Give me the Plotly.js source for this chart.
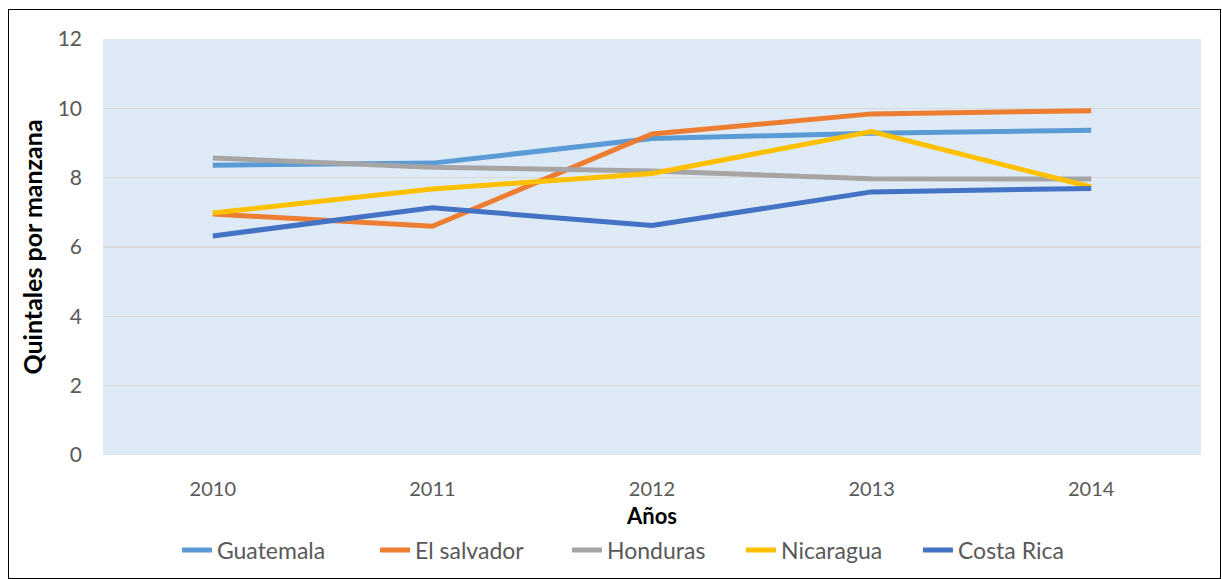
<!DOCTYPE html>
<html>
<head>
<meta charset="utf-8">
<script src="https://cdn.plot.ly/plotly-3.0.1.min.js"></script>
<style>
html,body{margin:0;padding:0;background:#fff;}
#wrap{position:relative;width:1222px;height:579px;}
#chart{width:1222px;height:579px;}
#frame{position:absolute;left:8px;top:9px;width:1211px;height:568px;border:1.5px solid #000;pointer-events:none;}
</style>
</head>
<body>
<div id="wrap"><div id="chart"></div><div id="frame"></div></div>
<script>
var years = ["2010", "2011", "2012", "2013", "2014"];
var guatemala = [8.36, 8.42, 9.13, 9.28, 9.37];
var elSalvador = [6.95, 6.6, 9.26, 9.84, 9.93];
var honduras = [8.57, 8.3, 8.19, 7.97, 7.96];
var nicaragua = [6.98, 7.67, 8.12, 9.33, 7.73];
var costaRica = [6.32, 7.13, 6.62, 7.59, 7.69];

var names = ["Guatemala", "El salvador", "Honduras", "Nicaragua", "Costa Rica"];
var colors = ["#5B9BD5", "#ED7D31", "#A5A5A5", "#FFC000", "#4472C4"];
var series = [guatemala, elSalvador, honduras, nicaragua, costaRica];
var legendIds = ["legend", "legend2", "legend3", "legend4", "legend5"];
var legendX = [0.1448, 0.3069, 0.4640, 0.6064, 0.7512];

var traces = series.map(function(s, i){
  return {x: years, y: s, type: "scatter", mode: "lines", name: names[i],
          legend: legendIds[i],
          line: {color: colors[i], width: 5}};
});

var layout = {
  width: 1222, height: 579,
  margin: {l: 103, r: 21, t: 39, b: 124},
  paper_bgcolor: "#ffffff",
  plot_bgcolor: "#DEEAF6",
  font: {family: "Lato, 'Open Sans', sans-serif", color: "#595959", size: 20},
  xaxis: {
    type: "category", range: [-0.5, 4.5], showgrid: false, zeroline: false, automargin: false,
    showline: false, ticks: "", ticklabelstandoff: 20, tickfont: {size: 20, color: "#595959"},
    title: {text: "<b>Años</b>", font: {size: 22, color: "#000"}, standoff: 18}
  },
  yaxis: {
    range: [0, 12], dtick: 2, showgrid: true, gridcolor: "#D9D9D9", gridwidth: 1.5, automargin: false,
    zeroline: false, showline: false, ticks: "", ticklabelstandoff: 20, tickfont: {size: 21, color: "#595959"},
    title: {text: "<b>Quintales por manzana</b>", font: {size: 25, color: "#000"}, standoff: 7}
  },
  showlegend: true
};
legendIds.forEach(function(id, i){
  layout[id] = {x: legendX[i], xref: "container", xanchor: "left",
                y: 0.05, yref: "container", yanchor: "middle",
                orientation: "h", font: {size: 23, color: "#595959"},
                bgcolor: "rgba(0,0,0,0)", borderwidth: 0};
});

Plotly.newPlot("chart", traces, layout, {displayModeBar: false, staticPlot: true});
</script>
</body>
</html>
